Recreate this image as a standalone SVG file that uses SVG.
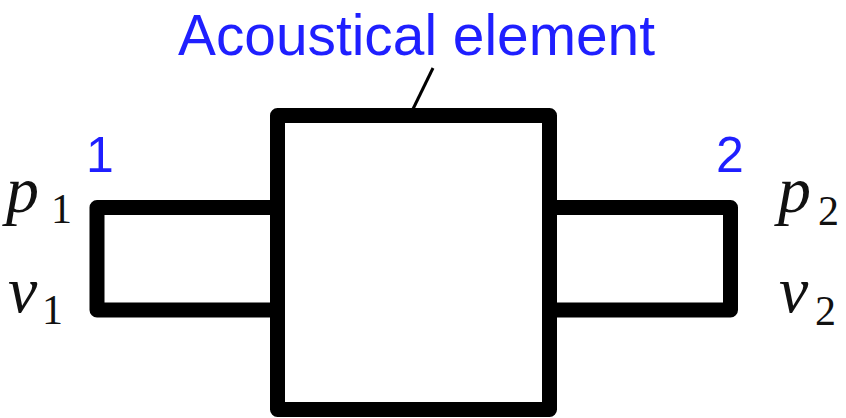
<svg xmlns="http://www.w3.org/2000/svg" width="846" height="418" viewBox="0 0 846 418">
<style>
.box{fill:none;stroke:#000;stroke-width:15;stroke-linejoin:round}
.lbl{font-family:"Liberation Sans",Arial,sans-serif;fill:#1f1fff}
.var{font-family:"Liberation Serif","Times New Roman",serif;fill:#111;font-style:italic;font-size:66px}
.sub{font-family:"Liberation Serif","Times New Roman",serif;fill:#111;font-size:42px}
</style>
<rect width="846" height="418" fill="#fff"/>
<g id="port1">
<polyline class="box" points="277,207.5 97,207.5 97,310 277,310"/>
</g>
<g id="port2">
<polyline class="box" points="549,207.5 730.5,207.5 730.5,310 549,310"/>
</g>
<g id="element">
<rect class="box" x="277.5" y="115.5" width="272" height="294"/>
</g>
<g id="connectors">
<line x1="433" y1="68" x2="413" y2="109" stroke="#000" stroke-width="3"/>
</g>
<g id="labels">
<text class="lbl" x="178" y="55" font-size="57" textLength="477" lengthAdjust="spacingAndGlyphs">Acoustical element</text>
<text class="lbl" x="100" y="172" font-size="50" text-anchor="middle">1</text>
<text class="lbl" x="730" y="172" font-size="50" text-anchor="middle">2</text>
<text class="var" x="6" y="212">p</text><text class="sub" x="51" y="223">1</text>
<text class="var" x="8" y="312">v</text><text class="sub" x="42" y="324">1</text>
<text class="var" x="778" y="212">p</text><text class="sub" x="818" y="225">2</text>
<text class="var" x="779" y="312">v</text><text class="sub" x="815" y="325">2</text>
</g>
</svg>
